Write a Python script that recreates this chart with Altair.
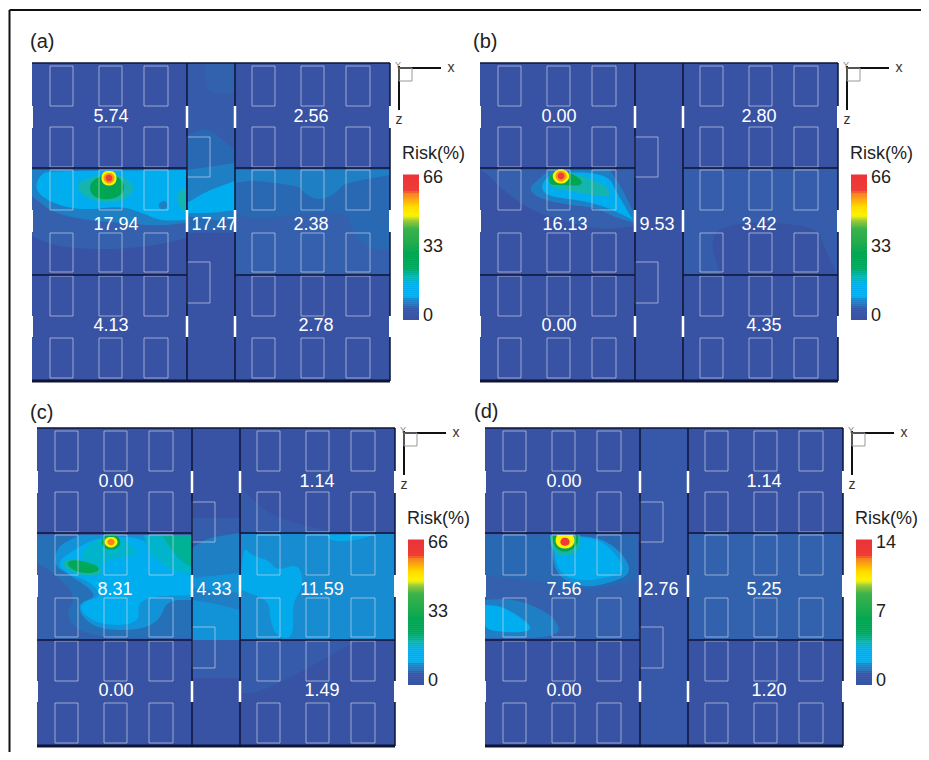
import altair as alt
import numpy as np
import pandas as pd

# ---- colour scale (fraction of full scale -> colour)
LEVELS = [0, .05, .09, .12, .16, .2, .3, .4, .5, .62, .68, .74, .83, .92, 1]
COLORS = ["#3953a4", "#3560ad", "#2968b2", "#1f7fc4", "#0a9ade", "#00aeef", "#14b4b0",
          "#00aa60", "#00a651", "#3cb44a", "#8dc63f", "#fff200", "#f7941d", "#ef4136", "#ed3237"]

PANELS = ["a", "b", "c", "d"]
ORIGIN_X = [32, 480, 37, 485]
ORIGIN_Y = [63, 63, 428, 428]
PANEL_TAG = ["(a)", "(b)", "(c)", "(d)"]
TAG_X = [30, 473, 30, 474]
TAG_Y = [42, 42, 413, 412]
SCALE_MAX = [66, 66, 66, 14]
SCALE_MID = [33, 33, 33, 7]

# risk of each zone, panel by panel
ROOM_VALUES = [
    ["5.74", "17.94", "4.13", "2.56", "2.38", "2.78", "17.47"],
    ["0.00", "16.13", "0.00", "2.80", "3.42", "4.35", "9.53"],
    ["0.00", "8.31", "0.00", "1.14", "11.59", "1.49", "4.33"],
    ["0.00", "7.56", "0.00", "1.14", "5.25", "1.20", "2.76"],
]
LABEL_X = [
    [79, 84, 79, 279, 279, 284, 182],
    [79, 85, 79, 279, 279, 284, 177],
    [79, 78, 79, 280, 285, 285, 177],
    [79, 79, 79, 279, 279, 284, 176],
]
LABEL_Y = [54, 162, 263, 54, 162, 263, 162]

# floor plan
PANEL_W, PANEL_H = 358, 318
WALL_X = [155, 203]
WALL_Y = [105, 212]
WIN_X = [(18, 41), (67, 90), (112, 136), (220, 243), (269, 292), (314, 338)]
WIN_Y = [(3, 43), (64, 104), (107, 147), (170, 209), (213, 253), (275, 315)]
MID_WIN_X = (155, 178)
MID_WIN_Y = [(74, 114), (199, 240)]
DOOR_Y = [(43, 65), (147, 169), (253, 274)]

# contour bands: (level, vertices) painted in order
POLY_A = [
    (.05, [(0,107),(154,107),(154,175),(121,183),(71,187),(21,183),(0,173)]),
    (.12, [(0,107),(154,107),(154,160),(128,163),(88,160),(54,157),(21,150),(0,133)]),
    (.2,  [(3,122),(10,110),(21,108),(154,107),(154,157),(128,158),(111,150),(88,143),(54,147),(28,143),(8,133)]),
    (.12, [(126,140),(134,137),(136,145),(128,147)]),
    (.03, [(155,0),(203,0),(203,170),(155,170)]),
    (.06, [(172,0),(203,0),(203,30),(175,32)]),
    (.09, [(155,73),(175,63),(203,87),(203,167),(155,168)]),
    (.12, [(155,107),(203,100),(203,157),(175,157),(155,153)]),
    (.2,  [(155,140),(175,128),(203,118),(203,147),(181,150),(155,150)]),
    (.05, [(204,106),(358,106),(358,212),(204,212)]),
    (.09, [(203,107),(358,107),(358,187),(338,187),(318,167),(318,150),(275,150),(221,157),(203,150)]),
    (.12, [(203,107),(358,107),(358,112),(312,120),(304,130),(288,138),(271,130),(268,123),(221,117),(203,120)]),
    (.3,  [(44,120),(68,111),(88,111),(103,123),(98,133),(84,140),(61,138),(48,130)]),
    (.3,  [(144,130),(154,125),(154,150),(148,145)]),
    (.5,  [(58,120),(69,112),(86,112),(94,125),(86,135),(68,137),(58,130)]),
    (.74, [(77,107.5),(83,109),(85,115),(83,121),(77,123),(71,121),(69,115),(71,109)]),
    (.83, [(77,109.5),(81,111),(83,115),(81,119),(77,121),(73,119),(71,115),(73,111)]),
    (.95, [(77,111.5),(79.5,112.5),(80.5,115),(79.5,117.5),(77,118.5),(74.5,117.5),(73.5,115),(74.5,112.5)]),
]
POLY_B = [
    (.05, [(0,107),(155,107),(155,163),(123,167),(90,160),(50,147),(23,127),(10,113)]),
    (.12, [(57,117),(70,107),(130,107),(143,127),(155,153),(155,160),(137,155),(117,145),(90,142),(63,137),(48,127)]),
    (.2,  [(60,123),(72,109),(127,110),(137,130),(147,147),(153,157),(133,147),(113,140),(90,136),(67,133)]),
    (.04, [(204,106),(357,106),(357,212),(345,185),(335,160),(225,160),(240,212),(204,212)]),
    (.3,  [(68,115),(72,109),(90,109),(123,120),(133,133),(117,133),(90,128),(70,125)]),
    (.5,  [(68,115),(73,109),(90,109),(103,118),(100,123),(83,122),(70,122)]),
    (.74, [(81,105.5),(87,108),(90,113),(87,119),(81,121),(75,119),(72,113),(75,108)]),
    (.83, [(81,107.5),(85,109),(87,113),(85,117),(81,119),(77,117),(75,113),(77,109)]),
    (.95, [(81,109.5),(83.5,110.5),(84.5,113),(83.5,115.5),(81,116.5),(78.5,115.5),(77.5,113),(78.5,110.5)]),
]
POLY_C = [
    (.05, [(0,106),(155,106),(155,212),(0,212)]),
    (.1,  [(0,107),(155,107),(155,210),(50,210),(27,188),(40,168),(17,145),(0,135)]),
    (.15, [(20,118),(43,107),(155,107),(155,172),(130,172),(123,192),(103,202),(67,202),(47,192),(40,175),(63,168),(33,147),(17,138)]),
    (.2,  [(18,135),(43,118),(63,109),(107,109),(117,128),(154,148),(154,167),(117,168),(100,175),(103,195),(70,198),(47,188),(42,175),(67,168),(50,152),(33,147)]),
    (.26, [(107,107),(155,107),(155,147),(133,142),(112,125)]),
    (.34, [(125,107),(155,107),(155,140),(140,130)]),
    (.04, [(155,90),(203,90),(203,250),(155,250)]),
    (.12, [(155,120),(170,110),(203,105),(203,212),(180,212),(155,205)]),
    (.15, [(155,172),(175,175),(203,182),(203,212),(155,212)]),
    (.15, [(155,150),(203,145),(203,165),(155,160)]),
    (.03, [(204,60),(235,90),(300,105),(204,105)]),
    (.03, [(204,213),(320,213),(225,265),(204,265)]),
    (.14, [(204,106),(358,106),(358,212),(204,212)]),
    (.19, [(204,145),(207,118),(215,128),(232,132),(240,143),(262,135),(267,158),(255,175),(257,210),(240,210),(233,192),(232,172),(204,162)]),
    (.19, [(290,107),(337,107),(317,113),(293,113)]),
    (.26, [(40,128),(60,110),(85,109),(105,127),(75,130),(60,140)]),
    (.3,  [(22,137),(33,130),(63,137),(67,147),(43,148)]),
    (.45, [(28,135),(38,131),(63,138),(60,145),(40,145)]),
    (.5,  [(74,105.5),(81,108),(84,114),(81,120),(74,122),(67,120),(64,114),(67,108)]),
    (.74, [(74,108.5),(79,110),(81,114),(79,118),(74,120),(69,118),(67,114),(69,110)]),
    (.85, [(74,110.5),(76.5,111.5),(78,114),(76.5,116.5),(74,117.5),(71.5,116.5),(70,114),(71.5,111.5)]),
]
POLY_D = [
    (.05, [(0,106),(153,106),(153,212),(0,212)]),
    (.09, [(0,107),(153,107),(153,152),(135,157),(98,163),(51,152),(0,148)]),
    (.15, [(66,118),(68,108),(111,108),(135,122),(148,145),(125,155),(98,160),(71,148)]),
    (.2,  [(68,122),(71,109),(110,109),(131,125),(141,145),(118,150),(98,153),(75,147)]),
    (.12, [(0,172),(28,170),(68,186),(78,210),(0,210)]),
    (.2,  [(0,177),(18,178),(48,198),(41,205),(5,203),(0,198)]),
    (.02, [(155,0),(203,0),(203,318),(155,318)]),
    (.06, [(204,106),(358,106),(358,212),(204,212)]),
    (.3,  [(65,107),(95,107),(96,118),(88,128),(72,128),(66,118)]),
    (.5,  [(67,107),(93,107),(93,116),(84,124),(74,123),(68,116)]),
    (.74, [(72,107),(88,107),(90,113),(87,119),(80,121),(73,119),(70,113)]),
    (.95, [(80,109.5),(83.5,110.5),(85,114),(83.5,117),(80,118),(76.5,117),(75,114),(76.5,110.5)]),
]
POLYGONS = [POLY_A, POLY_B, POLY_C, POLY_D]

BAR_X = (371, 387)
BAR_Y = (112, 257)
BAR_STEPS = [i / 72 for i in range(72)]
BAR_F = [0, .085, .095, .15, .16, .235, .3, .38, .615, .68, .72, .78, .87, .9, 1]
BAR_L = [0, .02, .1, .14, .2, .2, .3, .45, .6, .68, .74, .76, .85, .95, 1]
TICK_FRAC = [1, .5, 0]

WALL_XS = {0, 153, 154, 155, 203, 204, 357, 358}
WALL_YS = {0, 105, 106, 107, 212, 213, 318}


def rounded(verts, passes=3):
    """Round a traced outline by corner cutting; vertices on a wall stay put."""
    pts = [(x, y, x in WALL_XS or y in WALL_YS) for x, y in verts]
    for _ in range(passes):
        out = []
        for k, p in enumerate(pts):
            q = pts[(k + 1) % len(pts)]
            if p[2]:
                out.append(p)
            else:
                out.append((.75 * p[0] + .25 * q[0], .75 * p[1] + .25 * q[1], False))
            if not q[2]:
                out.append((.25 * p[0] + .75 * q[0], .25 * p[1] + .75 * q[1], False))
        pts = out
    return [(x, y) for x, y, _ in pts]


def poly_frame(groups):
    rows = []
    pid = 0
    for p, polys in enumerate(groups):
        for level, verts in polys:
            for i, (x, y) in enumerate(rounded(verts)):
                rows.append(dict(pid=pid, i=i, level=level,
                                 x=ORIGIN_X[p] + x, y=ORIGIN_Y[p] + y))
            pid += 1
    return pd.DataFrame(rows)


wins, walls, doors, outer, notches, labels, ticks, bars, triad, squares = ([] for _ in range(10))
axis_letters, small_letters, titles, tags, base = [], [], [], [], []
for p in range(4):
    ox, oy = ORIGIN_X[p], ORIGIN_Y[p]
    base.append(dict(x=ox, x2=ox + PANEL_W, y=oy, y2=oy + PANEL_H))
    for x0, x1 in WIN_X:
        for y0, y1 in WIN_Y:
            wins.append(dict(x=ox + x0, x2=ox + x1, y=oy + y0, y2=oy + y1))
    for y0, y1 in MID_WIN_Y:
        wins.append(dict(x=ox + MID_WIN_X[0], x2=ox + MID_WIN_X[1], y=oy + y0, y2=oy + y1))
    for wx in WALL_X:
        walls.append(dict(x=ox + wx, x2=ox + wx, y=oy, y2=oy + PANEL_H))
        for y0, y1 in DOOR_Y:
            doors.append(dict(x=ox + wx, x2=ox + wx, y=oy + y0, y2=oy + y1))
    for wy in WALL_Y:
        walls.append(dict(x=ox, x2=ox + WALL_X[0], y=oy + wy, y2=oy + wy))
        walls.append(dict(x=ox + WALL_X[1], x2=ox + PANEL_W, y=oy + wy, y2=oy + wy))
    walls.append(dict(x=ox, x2=ox + PANEL_W, y=oy, y2=oy))
    for y0, y1 in [(0, 43), (65, 147), (169, 253), (274, 318)]:
        outer.append(dict(x=ox + PANEL_W, x2=ox + PANEL_W, y=oy + y0, y2=oy + y1))
    for ex in (0, PANEL_W):
        for y0, y1 in DOOR_Y:
            notches.append(dict(x=ox + ex, x2=ox + ex, y=oy + y0, y2=oy + y1))
    for t, lx, ly in zip(ROOM_VALUES[p], LABEL_X[p], LABEL_Y):
        labels.append(dict(x=ox + lx, y=oy + ly, t=t))
    h = BAR_Y[1] - BAR_Y[0]
    for f in BAR_STEPS:
        bars.append(dict(x=ox + BAR_X[0], x2=ox + BAR_X[1],
                         y=oy + BAR_Y[1] - f * h, y2=oy + BAR_Y[1] - (f + 1 / 72) * h - .5,
                         level=float(np.interp(f + 1 / 144, BAR_F, BAR_L))))
    for f, v in zip(TICK_FRAC, [SCALE_MAX[p], SCALE_MID[p], 0]):
        ticks.append(dict(x=ox + 391, y=oy + 253 - f * 138, t=str(v)))
    titles.append(dict(x=ox + 370, y=oy + 91, t="Risk(%)"))
    tags.append(dict(x=TAG_X[p], y=TAG_Y[p], t=PANEL_TAG[p]))
    triad.append(dict(x=ox + 367, x2=ox + 367, y=oy + 3, y2=oy + 47))
    triad.append(dict(x=ox + 367, x2=ox + 409, y=oy + 5, y2=oy + 5))
    squares.append(dict(x=ox + 367, x2=ox + 380, y=oy + 5, y2=oy + 18))
    axis_letters.append(dict(x=ox + 419, y=oy + 5, t="x"))
    axis_letters.append(dict(x=ox + 367, y=oy + 57, t="z"))
    small_letters.append(dict(x=ox + 366, y=oy + 2, t="Y"))

X = alt.X("x:Q", scale=alt.Scale(domain=[8, 921], nice=False, zero=False), axis=None)
Y = alt.Y("y:Q", scale=alt.Scale(domain=[752, 8], nice=False, zero=False), axis=None)
FILL = alt.Fill("level:Q", scale=alt.Scale(domain=LEVELS, range=COLORS), legend=None)
FONT = "Liberation Sans"


def D(rows):
    return alt.Data(values=rows)


def seg(rows, **kw):
    return alt.Chart(D(rows)).mark_rule(**kw).encode(x=X, x2="x2:Q", y=Y, y2="y2:Q")


def txt(rows, **kw):
    return alt.Chart(D(rows)).mark_text(font=FONT, **kw).encode(x=X, y=Y, text="t:N")


layers = [
    alt.Chart(D(base)).mark_rect(color=COLORS[0]).encode(x=X, x2="x2:Q", y=Y, y2="y2:Q"),
    alt.Chart(poly_frame(POLYGONS)).mark_line(strokeWidth=0).encode(
        x=X, y=Y, fill=FILL, detail="pid:N", order="i:Q"),
    alt.Chart(D(wins)).mark_rect(fillOpacity=0, stroke="#d6dbea", strokeOpacity=.62, strokeWidth=1).encode(
        x=X, x2="x2:Q", y=Y, y2="y2:Q"),
    seg(walls, color="#0d1436", strokeWidth=1.5),
    seg(outer, color="#0d1436", strokeWidth=1.5),
    seg(notches, color="white", strokeWidth=2),
    seg(doors, color="white", strokeWidth=2.5),
    seg([dict(x=b["x"], x2=b["x2"], y=b["y2"], y2=b["y2"]) for b in base], color="#0d1436", strokeWidth=3),
    alt.Chart(D(bars)).mark_rect().encode(x=X, x2="x2:Q", y=Y, y2="y2:Q", fill=FILL),
    txt(labels, color="white", fontSize=18),
    txt(ticks, color="#222222", fontSize=18, align="left"),
    txt(titles, color="#222222", fontSize=18, align="left"),
    txt(tags, color="#222222", fontSize=20, align="left"),
    seg(triad, color="#111111", strokeWidth=2),
    alt.Chart(D(squares)).mark_rect(fillOpacity=0, stroke="#999999", strokeWidth=1).encode(
        x=X, x2="x2:Q", y=Y, y2="y2:Q"),
    txt(axis_letters, color="#333333", fontSize=14),
    txt(small_letters, color="#888888", fontSize=9),
    # outer frame of the figure: top and left only reach the picture's edges
    seg([dict(x=9.5, x2=9.5, y=10, y2=752), dict(x=9.5, x2=921, y=10, y2=10)],
        color="#111111", strokeWidth=2),
]

chart = alt.layer(*layers).properties(
    width=913, height=744, padding=0, autosize=alt.AutoSizeParams(type="none")
).configure_view(stroke=None)

chart.save("out.html", embed_options={"renderer": "svg", "actions": False})
